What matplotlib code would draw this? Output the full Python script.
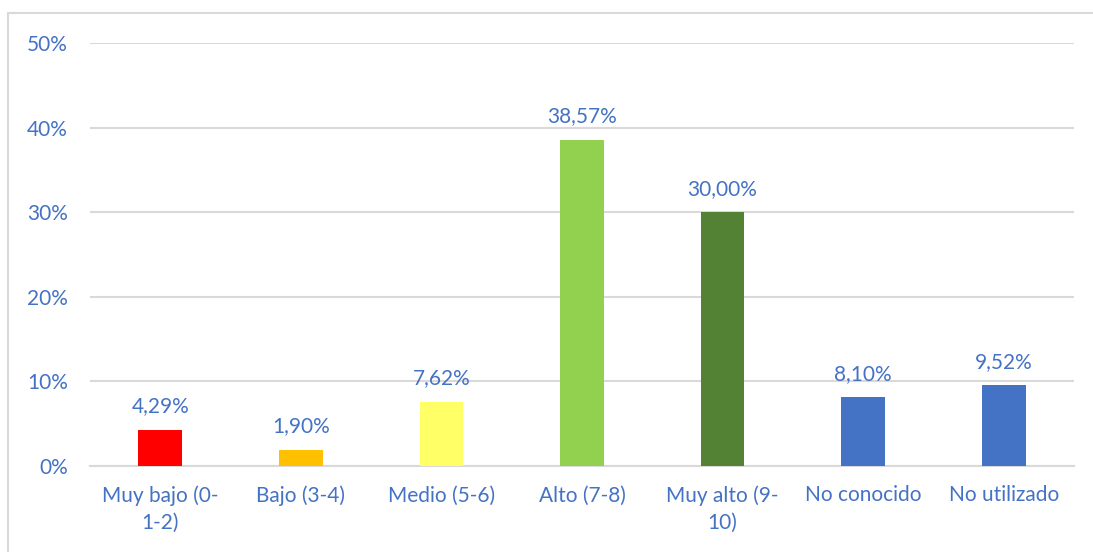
import matplotlib.pyplot as plt
from matplotlib.patches import Rectangle
from matplotlib.ticker import FuncFormatter, MultipleLocator

categories = ['Muy bajo (0-\n1-2)', 'Bajo (3-4)', 'Medio (5-6)', 'Alto (7-8)',
              'Muy alto (9-\n10)', 'No conocido', 'No utilizado']
values = [4.29, 1.90, 7.62, 38.57, 30.00, 8.10, 9.52]
labels = ['4,29%', '1,90%', '7,62%', '38,57%', '30,00%', '8,10%', '9,52%']
colors = ['#FF0000', '#FFC000', '#FFFF66', '#92D050', '#548235', '#4472C4', '#4472C4']

txt = '#4472C4'
plt.rcParams['font.family'] = ['Lato', 'DejaVu Sans']
fs = 15

fig = plt.figure(figsize=(10.93, 5.52), dpi=100)
ax = fig.add_axes([90 / 1093, 86 / 552, 984 / 1093, 423 / 552])

# outer chart border (right/bottom edges fall outside the image)
fig.patches.append(Rectangle((8 / 1093, -0.1), 2, (552 - 13) / 552 + 0.1,
                             transform=fig.transFigure, fill=False,
                             edgecolor='#D9D9D9', lw=1.5))

x = range(len(categories))
ax.bar(x, values, width=0.31, color=colors, zorder=3)
for i, v in enumerate(values):
    ax.text(i, v + 1.6, labels[i], ha='center', va='bottom', color=txt, fontsize=fs)

ax.set_xlim(-0.5, len(categories) - 0.5)
ax.set_ylim(0, 50)
ax.yaxis.set_major_locator(MultipleLocator(10))
ax.yaxis.set_major_formatter(FuncFormatter(lambda v, p: '%d%%' % v))
ax.grid(axis='y', color='#D9D9D9', lw=1.5, zorder=0)
ax.set_xticks(list(x))
ax.set_xticklabels(categories, color=txt, fontsize=fs, linespacing=1.45)
ax.tick_params(axis='y', colors=txt, labelsize=fs, length=0, pad=16)
ax.tick_params(axis='x', length=0, pad=14)
for s in ['top', 'right', 'left']:
    ax.spines[s].set_visible(False)
ax.spines['bottom'].set_color('#D9D9D9')
ax.spines['bottom'].set_linewidth(1.5)

fig.savefig('out.png', dpi=100)
